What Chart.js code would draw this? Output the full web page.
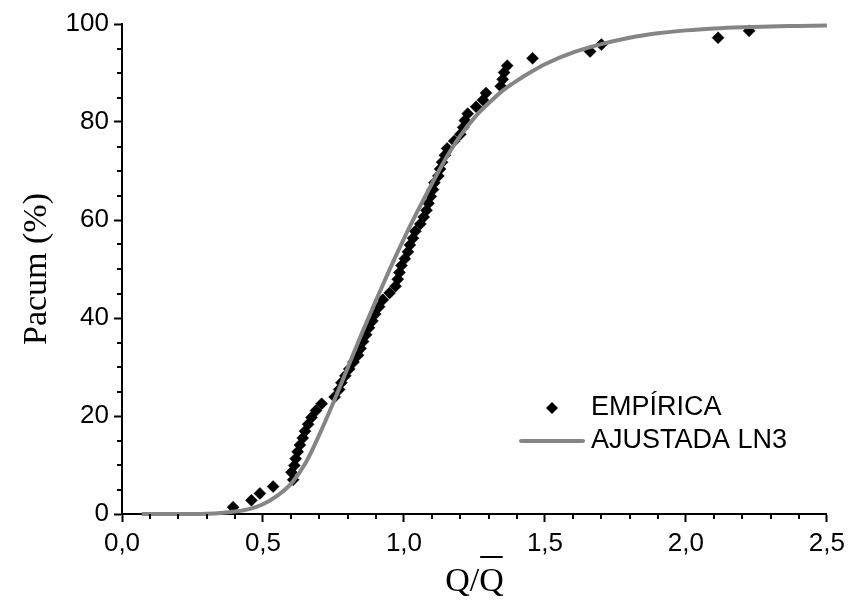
<!DOCTYPE html>
<html>
<head>
<meta charset="utf-8">
<script src="https://cdn.jsdelivr.net/npm/chart.js@4.4.1/dist/chart.umd.min.js"></script>
<style>
  html, body { margin: 0; padding: 0; background: #ffffff; }
  #wrap { width: 851px; height: 602px; }
</style>
</head>
<body>
<div id="wrap"><canvas id="c" width="851" height="602"></canvas></div>
<script>
// ---- Data ----
const seriesNames = ['EMPÍRICA', 'AJUSTADA LN3'];

// Empirical points: Q/Qmean and cumulative probability (%)
const empiricalX = [0.394, 0.459, 0.489, 0.536, 0.607, 0.601, 0.611, 0.616, 0.623, 0.631,
  0.641, 0.649, 0.660, 0.672, 0.688, 0.708, 0.754, 0.770, 0.778, 0.792,
  0.806, 0.821, 0.837, 0.846, 0.855, 0.866, 0.876, 0.888, 0.898, 0.912,
  0.925, 0.949, 0.970, 0.978, 0.984, 0.991, 1.003, 1.014, 1.021, 1.032,
  1.040, 1.058, 1.070, 1.080, 1.087, 1.095, 1.103, 1.108, 1.122, 1.128,
  1.135, 1.145, 1.153, 1.178, 1.200, 1.210, 1.216, 1.226, 1.256, 1.280,
  1.291, 1.343, 1.350, 1.355, 1.366, 1.456, 1.660, 1.700, 2.114, 2.224];
const empiricalP = [1.4, 2.8, 4.2, 5.6, 7.0, 8.5, 9.9, 11.3, 12.7, 14.1,
  15.5, 16.9, 18.3, 19.7, 21.1, 22.5, 23.9, 25.4, 26.8, 28.2,
  29.6, 31.0, 32.4, 33.8, 35.2, 36.6, 38.0, 39.4, 40.8, 42.3,
  43.7, 45.1, 46.5, 47.9, 49.3, 50.7, 52.1, 53.5, 54.9, 56.3,
  57.7, 59.2, 60.6, 62.0, 63.4, 64.8, 66.2, 67.6, 69.0, 70.4,
  71.8, 73.2, 74.6, 76.1, 77.5, 78.9, 80.3, 81.7, 83.1, 84.5,
  85.9, 87.3, 88.7, 90.1, 91.5, 93.0, 94.4, 95.8, 97.2, 98.6];

// Fitted LN3 curve
const fitX = [0.07, 0.15, 0.25, 0.30, 0.35, 0.40, 0.45, 0.50, 0.55, 0.60,
  0.65, 0.70, 0.75, 0.80, 0.85, 0.90, 0.95, 1.00, 1.05, 1.10,
  1.15, 1.20, 1.25, 1.30, 1.35, 1.40, 1.45, 1.50, 1.60, 1.70,
  1.80, 1.90, 2.00, 2.10, 2.20, 2.30, 2.40, 2.50];
const fitP = [0, 0, 0, 0.05, 0.2, 0.5, 1.0, 2.0, 3.7, 6.2,
  10.3, 16.2, 22.8, 29.8, 36.8, 43.5, 50.0, 56.2, 62.0, 67.5,
  72.7, 77.2, 80.9, 83.8, 86.4, 88.4, 90.2, 91.8, 94.2, 95.9,
  97.2, 98.1, 98.7, 99.1, 99.35, 99.5, 99.6, 99.7];

// Axis ranges and ticks
const xMin = 0, xMax = 2.5, xMajorStep = 0.5, xMinorStep = 0.1;
const yMin = 0, yMax = 100, yMajorStep = 20, yMinorStep = 5;
const yTitle = 'Pacum (%)';
const xTitle = 'Q/Q';

// ---- Build datasets ----
const empiricalData = empiricalX.map((x, i) => ({ x: x, y: empiricalP[i] }));
const fitData = fitX.map((x, i) => ({ x: x, y: fitP[i] }));

const LINE_GREY = '#858585';
const SANS = "'Liberation Sans', Arial, sans-serif";
const SERIF = "'Liberation Serif', 'Times New Roman', serif";
const TITLE_SIZE = 34;

const decorPlugin = {
  id: 'decor',
  afterDraw(chart) {
    const ctx = chart.ctx;
    const xs = chart.scales.x, ys = chart.scales.y;
    const area = chart.chartArea;
    ctx.save();
    ctx.strokeStyle = '#000';
    ctx.lineWidth = 2;
    // minor ticks on x
    for (let v = xMin; v <= xMax + 1e-9; v += xMinorStep) {
      const r = Math.round(v * 10) / 10;
      if (Math.abs(r / xMajorStep - Math.round(r / xMajorStep)) < 1e-6) continue;
      const px = Math.round(xs.getPixelForValue(r));
      ctx.beginPath();
      ctx.moveTo(px, area.bottom);
      ctx.lineTo(px, area.bottom + 5);
      ctx.stroke();
    }
    // minor ticks on y
    for (let v = yMin; v <= yMax; v += yMinorStep) {
      if (v % yMajorStep === 0) continue;
      const py = Math.round(ys.getPixelForValue(v));
      ctx.beginPath();
      ctx.moveTo(area.left, py);
      ctx.lineTo(area.left - 5, py);
      ctx.stroke();
    }
    // overline on the second Q of the x title
    ctx.font = TITLE_SIZE + 'px ' + SERIF;
    const full = ctx.measureText(xTitle).width;
    const pre = ctx.measureText('Q/').width;
    const qw = ctx.measureText('Q').width;
    const cx = (area.left + area.right) / 2;
    const startX = cx - full / 2 + pre;
    ctx.lineWidth = 2;
    ctx.beginPath();
    ctx.moveTo(startX + 1, 557);
    ctx.lineTo(startX + qw - 1, 557);
    ctx.stroke();

    // legend
    const lx = 552, ly1 = 408, ly2 = 441;
    ctx.fillStyle = '#000';
    ctx.beginPath();
    ctx.moveTo(lx, ly1 - 6);
    ctx.lineTo(lx + 6, ly1);
    ctx.lineTo(lx, ly1 + 6);
    ctx.lineTo(lx - 6, ly1);
    ctx.closePath();
    ctx.fill();
    ctx.strokeStyle = LINE_GREY;
    ctx.lineWidth = 4;
    ctx.lineCap = 'round';
    ctx.beginPath();
    ctx.moveTo(521, ly2);
    ctx.lineTo(583, ly2);
    ctx.stroke();
    ctx.font = '27px ' + SANS;
    ctx.textBaseline = 'middle';
    ctx.textAlign = 'left';
    ctx.fillText(seriesNames[0], 591, ly1);
    ctx.fillText(seriesNames[1], 591, ly2);
    ctx.restore();
  }
};

new Chart(document.getElementById('c'), {
  type: 'scatter',
  data: {
    datasets: [
      {
        type: 'line',
        label: seriesNames[1],
        data: fitData,
        borderColor: LINE_GREY,
        borderWidth: 4,
        pointRadius: 0,
        fill: false,
        cubicInterpolationMode: 'monotone',
        clip: false,
        order: 0
      },
      {
        label: seriesNames[0],
        data: empiricalData,
        pointStyle: 'rectRot',
        pointRadius: 6,
        pointBackgroundColor: '#000',
        pointBorderColor: '#000',
        pointBorderWidth: 0.5,
        clip: false,
        order: 1
      }
    ]
  },
  options: {
    responsive: false,
    devicePixelRatio: 1,
    animation: false,
    layout: { padding: { top: 24, right: 23, left: 0, bottom: 0 } },
    plugins: {
      legend: { display: false },
      tooltip: { enabled: false },
      title: { display: false }
    },
    scales: {
      x: {
        type: 'linear',
        min: xMin, max: xMax,
        afterFit(scale) { scale.height = 88; },
        border: { display: true, color: '#000', width: 2 },
        grid: { display: true, drawOnChartArea: false, drawTicks: true, tickLength: 8, tickWidth: 2, tickColor: '#000' },
        ticks: {
          stepSize: xMajorStep,
          color: '#000',
          padding: 6,
          maxRotation: 0,
          font: { family: SANS, size: 26 },
          callback: (v) => Number(v).toFixed(1).replace('.', ',')
        },
        title: {
          display: true,
          text: xTitle,
          color: '#000',
          font: { family: SERIF, size: TITLE_SIZE },
          padding: { top: 0, bottom: 0 }
        }
      },
      y: {
        type: 'linear',
        min: yMin, max: yMax,
        afterFit(scale) { scale.width = 122; },
        border: { display: true, color: '#000', width: 2 },
        grid: { display: true, drawOnChartArea: false, drawTicks: true, tickLength: 8, tickWidth: 2, tickColor: '#000' },
        ticks: {
          stepSize: yMajorStep,
          color: '#000',
          padding: 5,
          font: { family: SANS, size: 26 },
          callback: (v) => String(v)
        },
        title: {
          display: true,
          text: yTitle,
          color: '#000',
          font: { family: SERIF, size: TITLE_SIZE },
          padding: { top: 17, bottom: 0 }
        }
      }
    }
  },
  plugins: [decorPlugin]
});
</script>
</body>
</html>
